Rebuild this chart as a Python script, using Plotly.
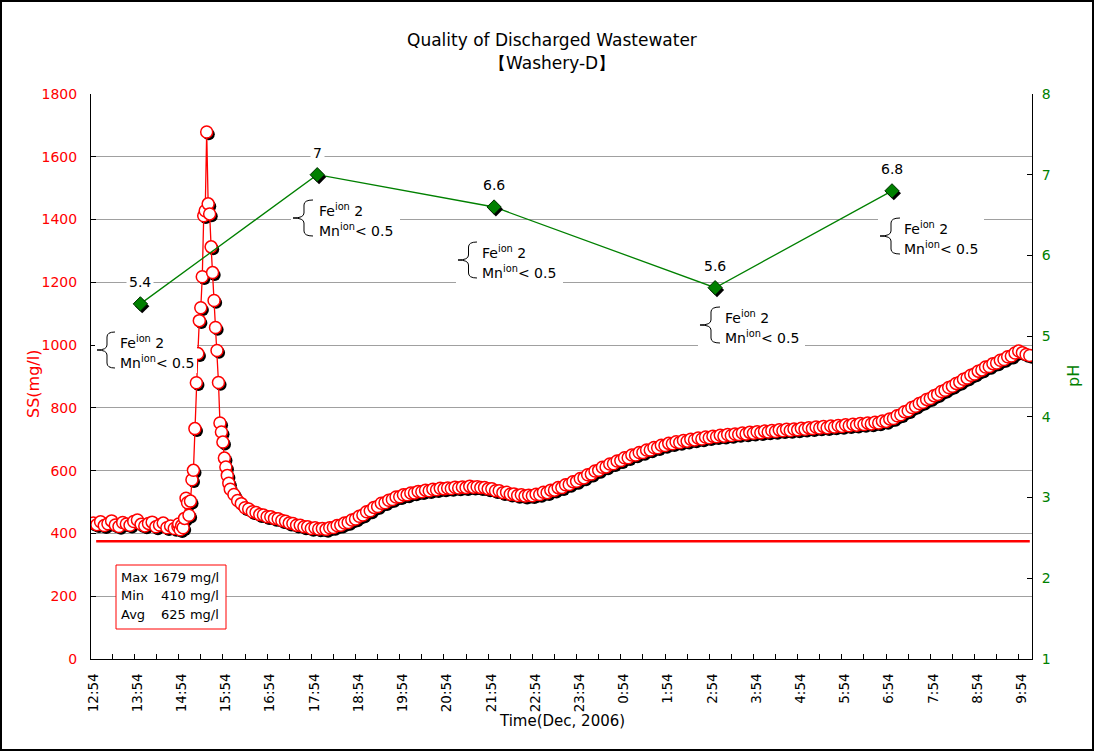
import pandas as pd
import plotly.graph_objects as go

# ---------------- data ----------------
seg1_start = "2006-12-01 12:54"   # 5-min readings
seg1_ss = [433, 428, 437, 425, 431, 440, 427, 422, 435, 430, 426, 438,
           443, 429, 424, 432, 436, 421, 427, 433, 418, 424, 416, 422]

seg2_start = "2006-12-01 14:50"   # 2-min readings during the peak
seg2_ss = [430, 412, 425, 418, 448, 512, 498, 458, 503, 571, 601, 734,
           880, 973, 1078, 1119, 1218, 1412, 1428, 1679, 1450, 1418, 1313, 1231,
           1142, 1056, 983, 881, 752, 723, 691, 640, 612, 585, 560]

seg3_start = "2006-12-01 16:00"   # 5-min readings
seg3_ss = [
    541, 524, 505, 495, 482, 478, 469, 467, 460, 459, 453, 453,   # 16h
    448, 447, 441, 439, 433, 432, 426, 426, 421, 421, 416, 418,   # 17h
    414, 416, 413, 418, 419, 425, 426, 433, 435, 443, 446, 455,   # 18h
    459, 469, 472, 483, 486, 496, 498, 506, 508, 516, 517, 523,   # 19h
    523, 529, 529, 534, 533, 538, 536, 541, 539, 544, 542, 545,   # 20h
    543, 547, 545, 548, 546, 550, 547, 549, 546, 546, 542, 542,   # 21h
    536, 536, 530, 531, 525, 526, 521, 523, 519, 522, 520, 525,   # 22h
    524, 531, 530, 538, 538, 546, 546, 555, 556, 565, 566, 575,   # 23h
    577, 587, 589, 599, 601, 611, 612, 621, 622, 631, 632, 641,   # 0h
    641, 650, 650, 658, 658, 666, 666, 674, 673, 681, 680, 687,   # 1h
    686, 692, 690, 696, 694, 700, 698, 704, 701, 707, 705, 710,   # 2h
    708, 713, 710, 715, 712, 717, 715, 720, 717, 722, 719, 724,   # 3h
    721, 726, 723, 728, 725, 730, 727, 732, 728, 733, 730, 735,   # 4h
    732, 737, 734, 739, 736, 741, 737, 742, 739, 744, 741, 746,   # 5h
    743, 748, 745, 750, 747, 752, 749, 754, 752, 758, 757, 765,   # 6h
    766, 775, 778, 788, 791, 801, 805, 814, 818, 827, 830, 839,   # 7h
    843, 852, 856, 865, 869, 878, 882, 891, 895, 904, 908, 917,   # 8h
    921, 930, 932, 941, 943, 952, 954, 963, 965, 975, 981, 976,   # 9h
    970, 967]                                                     # 10h

limit_ss = 375

ph_times = ["2006-12-01 13:58", "2006-12-01 17:58", "2006-12-01 21:58",
            "2006-12-02 02:58", "2006-12-02 06:58"]
ph_values = [5.4, 7.0, 6.6, 5.6, 6.8]
ph_labels = ["5.4", "7", "6.6", "5.6", "6.8"]

stats_names = ["Max", "Min", "Avg"]
stats_values = ["1679 mg/l", "410 mg/l", "625 mg/l"]

x_range = ["2006-12-01 12:51", "2006-12-02 10:08"]

# ---------------- build series ----------------
t1 = pd.date_range(seg1_start, periods=len(seg1_ss), freq="5min")
t2 = pd.date_range(seg2_start, periods=len(seg2_ss), freq="2min")
t3 = pd.date_range(seg3_start, periods=len(seg3_ss), freq="5min")
ss_time = list(t1) + list(t2) + list(t3)
ss_vals = seg1_ss + seg2_ss + seg3_ss

RED = "#ff0000"
GREEN = "#008000"
FONT = "DejaVu Sans"

# plot area in pixels
PL, PR, PT, PB = 91, 1032, 94, 659
def px(x):
    return (x - PL) / (PR - PL)
def py(y):
    return (PB - y) / (PB - PT)

# shadow offsets (~2 px right/down)
dt_shadow = pd.Timedelta(seconds=170)
dy_ss = 1800 / (PB - PT) * 2.3
dy_ph = 7 / (PB - PT) * 2.3

fig = go.Figure()

# limit line
fig.add_trace(go.Scatter(x=[ss_time[0] + pd.Timedelta(minutes=4), ss_time[-1]],
                         y=[limit_ss, limit_ss],
                         mode="lines", line=dict(color=RED, width=2.6),
                         hoverinfo="skip"))
# SS shadow
fig.add_trace(go.Scatter(x=[t + dt_shadow for t in ss_time],
                         y=[v - dy_ss for v in ss_vals], mode="markers",
                         marker=dict(size=12, color="black", line=dict(width=0)),
                         hoverinfo="skip"))
# SS series
fig.add_trace(go.Scatter(x=ss_time, y=ss_vals, mode="lines+markers",
                         line=dict(color=RED, width=1.3),
                         marker=dict(size=12, color="white",
                                     line=dict(color=RED, width=1.5)),
                         name="SS"))
# pH line
fig.add_trace(go.Scatter(x=pd.to_datetime(ph_times), y=ph_values, yaxis="y2",
                         mode="lines", line=dict(color=GREEN, width=1.3),
                         hoverinfo="skip"))
# pH shadow
fig.add_trace(go.Scatter(x=[t + pd.Timedelta(seconds=150) for t in pd.to_datetime(ph_times)],
                         y=[v - dy_ph for v in ph_values], yaxis="y2",
                         mode="markers",
                         marker=dict(symbol="diamond", size=11, color="black"),
                         hoverinfo="skip"))
# pH markers
fig.add_trace(go.Scatter(x=pd.to_datetime(ph_times), y=ph_values, yaxis="y2",
                         mode="markers",
                         marker=dict(symbol="diamond", size=11, color=GREEN,
                                     line=dict(color="#003000", width=1)),
                         name="pH"))

annotations = []
shapes = []

# pH data labels
for t, v, lab in zip(ph_times, ph_values, ph_labels):
    annotations.append(dict(x=t, y=v, xref="x", yref="y2", text=lab,
                            showarrow=False, yshift=22, bgcolor="white",
                            yanchor="middle", xanchor="center",
                            borderpad=2, font=dict(size=14, color="black")))

# Fe / Mn notes: brace left, brace right, text x, line1 y, line2 y, box right
notes = [(97, 115, 118, 342, 362, 197),
         (293, 313, 317, 210, 230, 400),
         (458, 477, 480, 252, 272, 563),
         (700, 720, 723, 317, 337, 805),
         (880, 900, 902, 228, 248, 984)]
for xl, xr, xt, y1, y2, xb in notes:
    shapes.append(dict(type="rect", xref="paper", yref="paper", layer="above",
                       x0=px(xl - 2), x1=px(xb), y0=py(y1 - 13), y1=py(y2 + 11),
                       fillcolor="white", line=dict(width=0)))
    yt, yb = y1 - 10, y2 + 6
    ym = (yt + yb) / 2
    xm = (xl + xr) / 2 + 1
    r = 5
    pts = [("M", [(xr, yt)]), ("Q", [(xm, yt), (xm, yt + r)]), ("L", [(xm, ym - r)]),
           ("Q", [(xm, ym), (xl, ym)]), ("Q", [(xm, ym), (xm, ym + r)]),
           ("L", [(xm, yb - r)]), ("Q", [(xm, yb), (xr, yb)])]
    path = " ".join(c + " " + " ".join(f"{px(a):.5f},{py(b):.5f}" for a, b in p)
                    for c, p in pts)
    shapes.append(dict(type="path", xref="paper", yref="paper", layer="above",
                       path=path, line=dict(color="black", width=1)))
    annotations.append(dict(x=px(xt), y=py(y1), xref="paper", yref="paper",
                            xanchor="left", yanchor="middle", showarrow=False,
                            text="Fe<sup>ion</sup> 2", font=dict(size=14)))
    annotations.append(dict(x=px(xt), y=py(y2), xref="paper", yref="paper",
                            xanchor="left", yanchor="middle", showarrow=False,
                            text="Mn<sup>ion</sup>&lt; 0.5", font=dict(size=14)))

# statistics box
shapes.append(dict(type="rect", xref="paper", yref="paper", layer="above",
                   x0=px(116), x1=px(226), y0=py(565), y1=py(629),
                   fillcolor="white", line=dict(color=RED, width=1)))
for i, (nm, val) in enumerate(zip(stats_names, stats_values)):
    yy = 577 + i * 18.5
    annotations.append(dict(x=px(119), y=py(yy), xref="paper", yref="paper",
                            xanchor="left", yanchor="middle", showarrow=False,
                            text=nm, font=dict(size=13)))
    annotations.append(dict(x=px(221), y=py(yy), xref="paper", yref="paper",
                            xanchor="right", yanchor="middle", showarrow=False,
                            text=val, font=dict(size=13)))

# titles
annotations.append(dict(x=px(552), y=py(40), xref="paper", yref="paper",
                        xanchor="center", yanchor="middle",
                        showarrow=False, text="Quality of Discharged Wastewater",
                        font=dict(size=17)))
annotations.append(dict(x=px(552), y=py(63), xref="paper", yref="paper",
                        xanchor="center", yanchor="middle",
                        showarrow=False, text="【Washery-D】", font=dict(size=17)))
annotations.append(dict(x=px(33), y=py(384), xref="paper", yref="paper",
                        xanchor="center", yanchor="middle",
                        showarrow=False, text="SS(mg/l)", textangle=-90,
                        font=dict(size=16, color=RED)))
annotations.append(dict(x=px(1073), y=py(376), xref="paper", yref="paper",
                        xanchor="center", yanchor="middle",
                        showarrow=False, text="pH", textangle=-90,
                        font=dict(size=16, color=GREEN)))
annotations.append(dict(x=px(562), y=py(721), xref="paper", yref="paper",
                        xanchor="center", yanchor="middle",
                        showarrow=False, text="Time(Dec, 2006)",
                        font=dict(size=15)))

# outer chart border
shapes.append(dict(type="rect", xref="paper", yref="paper", layer="above",
                   x0=px(1), x1=px(1093), y0=py(1), y1=py(750),
                   line=dict(color="black", width=2)))

fig.update_layout(
    width=1094, height=751,
    margin=dict(l=PL, r=1094 - PR, t=PT, b=751 - PB),
    paper_bgcolor="white", plot_bgcolor="white", showlegend=False,
    font=dict(family=FONT, size=13, color="black"),
    xaxis=dict(type="date", range=x_range,
               tick0="2006-12-01 12:54", dtick=3600000, tickformat="%-H:%M",
               tickangle=-90, ticks="", showline=True, linecolor="black",
               linewidth=1, showgrid=False, zeroline=False,
               ticklabelstandoff=8,
               tickfont=dict(size=13.5, color="black"),
               minor=dict(ticks="inside", tick0="2006-12-01 12:50",
                          dtick=1800000, ticklen=5, tickcolor="black",
                          showgrid=False)),
    yaxis=dict(range=[0, 1800], dtick=200, showline=True, linecolor="black",
               linewidth=1, gridcolor="#a0a0a0", gridwidth=1, zeroline=False,
               ticks="inside", ticklen=5, tickcolor="black",
               ticklabelstandoff=10,
               tickfont=dict(size=14, color=RED)),
    yaxis2=dict(range=[1, 8], dtick=1, overlaying="y", side="right",
                showline=True, linecolor="black", linewidth=1, showgrid=False,
                zeroline=False, ticks="inside", ticklen=5, tickcolor="black",
                ticklabelstandoff=6,
                tickfont=dict(size=14, color=GREEN)),
    annotations=annotations, shapes=shapes,
)

fig.write_html("out.html")
